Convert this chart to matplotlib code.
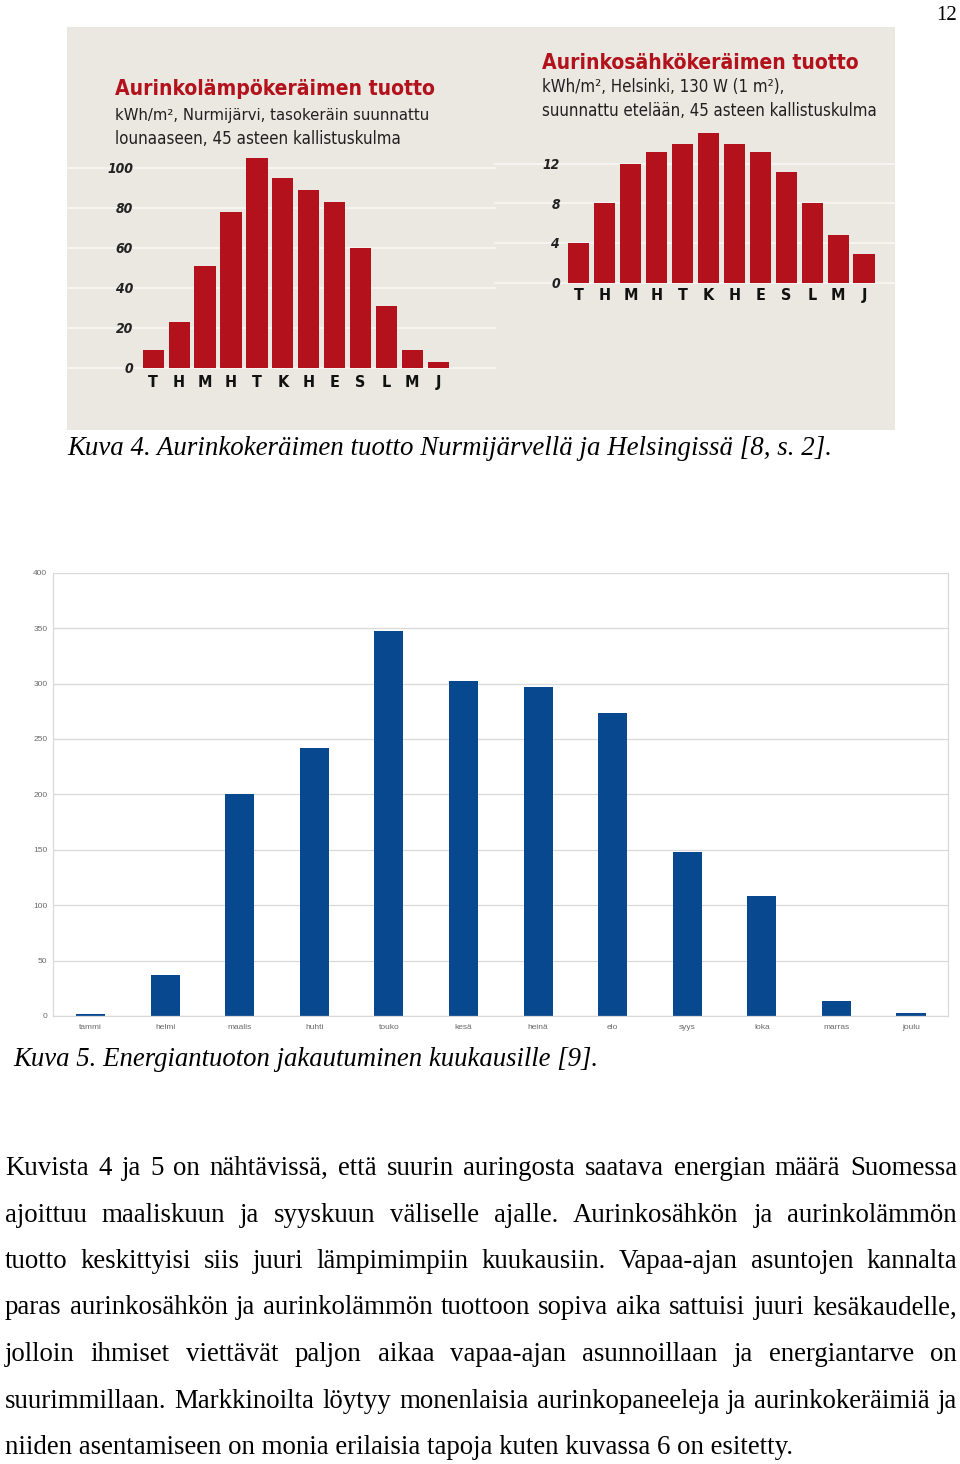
import matplotlib
matplotlib.use('Agg')
import matplotlib.pyplot as plt
from matplotlib.patches import Rectangle

W, H, DPI = 960, 1464, 100

# ---------------- data ----------------
months_short = ['T', 'H', 'M', 'H', 'T', 'K', 'H', 'E', 'S', 'L', 'M', 'J']
heat_kwh = [9, 23, 51, 78, 105, 95, 89, 83, 60, 31, 9, 3]
heat_ticks = [0, 20, 40, 60, 80, 100]
pv_kwh = [4, 8, 12, 13.2, 14, 15.1, 14, 13.2, 11.2, 8, 4.8, 2.9]
pv_ticks = [0, 4, 8, 12]
months_fi = ['tammi', 'helmi', 'maalis', 'huhti', 'touko', 'kesä',
             'heinä', 'elo', 'syys', 'loka', 'marras', 'joulu']
energy = [1.5, 37, 200, 242, 347, 302, 297, 273, 148, 108, 13.5, 2.5]
energy_ticks = [0, 50, 100, 150, 200, 250, 300, 350, 400]

title_heat = 'Aurinkolämpökeräimen tuotto'
sub_heat = ['kWh/m², Nurmijärvi, tasokeräin suunnattu',
            'lounaaseen, 45 asteen kallistuskulma']
title_pv = 'Aurinkosähkökeräimen tuotto'
sub_pv = ['kWh/m², Helsinki, 130 W (1 m²),',
          'suunnattu etelään, 45 asteen kallistuskulma']
caption4 = 'Kuva 4. Aurinkokeräimen tuotto Nurmijärvellä ja Helsingissä [8, s. 2].'
caption5 = 'Kuva 5. Energiantuoton jakautuminen kuukausille [9].'
page_no = '12'
body_lines = [
    'Kuvista 4 ja 5 on nähtävissä, että suurin auringosta saatava energian määrä Suomessa',
    'ajoittuu maaliskuun ja syyskuun väliselle ajalle. Aurinkosähkön ja aurinkolämmön',
    'tuotto keskittyisi siis juuri lämpimimpiin kuukausiin. Vapaa-ajan asuntojen kannalta',
    'paras aurinkosähkön ja aurinkolämmön tuottoon sopiva aika sattuisi juuri kesäkaudelle,',
    'jolloin ihmiset viettävät paljon aikaa vapaa-ajan asunnoillaan ja energiantarve on',
    'suurimmillaan. Markkinoilta löytyy monenlaisia aurinkopaneeleja ja aurinkokeräimiä ja',
    'niiden asentamiseen on monia erilaisia tapoja kuten kuvassa 6 on esitetty.',
]

RED = '#b3121c'
BLUE = '#08488e'
BEIGE = '#ebe7e1'
COND = ['Liberation Sans Narrow', 'DejaVu Sans']
SERIF = ['Liberation Serif', 'DejaVu Serif']

fig = plt.figure(figsize=(W / DPI, H / DPI), dpi=DPI)
fig.patch.set_facecolor('white')
renderer = fig.canvas.get_renderer()

page = fig.add_axes([0, 0, 1, 1])
page.set_xlim(0, W)
page.set_ylim(H, 0)
page.axis('off')


def px_axes(x0, y0, x1, y1):
    a = fig.add_axes([x0 / W, 1 - y1 / H, (x1 - x0) / W, (y1 - y0) / H])
    a.patch.set_alpha(0)
    return a


def fit_text(x, y, s, width, fs=20, **kw):
    t = page.text(x, y, s, fontsize=fs, va='baseline', **kw)
    w = t.get_window_extent(renderer).width
    t.set_fontsize(fs * width / w)
    return t


# ---------------- infographic background ----------------
page.add_patch(Rectangle((67, 27), 828, 403, facecolor=BEIGE, edgecolor='none'))

# ---------------- left: solar heat collector ----------------
axL = px_axes(67, 147.7, 495, 367.7)
axL.bar(range(12), heat_kwh, width=0.82, color=RED, zorder=2)
axL.set_xlim(-3.33, 13.19)
axL.set_ylim(0, 110)
axL.set_yticks(heat_ticks)
axL.set_yticklabels([str(v) for v in heat_ticks], family=COND, fontstretch='condensed',
                    fontsize=10, fontweight='bold', fontstyle='italic', color='#222222')
axL.set_xticks(range(12))
axL.set_xticklabels(months_short, family=COND, fontstretch='condensed', fontsize=11.5,
                    fontweight='bold', color='#111111')
axL.tick_params(axis='y', length=0, pad=-47.5)
axL.tick_params(axis='x', length=0, pad=5)
axL.grid(axis='y', color='#f8f6f3', lw=1.3, clip_on=False)
axL.set_axisbelow(True)
for s in axL.spines.values():
    s.set_visible(False)

fit_text(115, 95, title_heat, 322, family=COND, fontstretch='condensed',
         fontweight='bold', color=RED)
fit_text(115, 120, sub_heat[0], 311, family=COND, fontstretch='condensed', color='#231f20')
fit_text(115, 144, sub_heat[1], 285, family=COND, fontstretch='condensed', color='#231f20')

# ---------------- right: PV collector ----------------
axR = px_axes(495, 119.15, 895, 282.5)
axR.bar(range(12), pv_kwh, width=0.82, color=RED, zorder=2)
axR.set_xlim(-3.225, 12.19)
axR.set_ylim(0, 16.5)
axR.set_yticks(pv_ticks)
axR.set_yticklabels([str(v) for v in pv_ticks], family=COND, fontstretch='condensed',
                    fontsize=10, fontweight='bold', fontstyle='italic', color='#222222')
axR.set_xticks(range(12))
axR.set_xticklabels(months_short, family=COND, fontstretch='condensed', fontsize=11.5,
                    fontweight='bold', color='#111111')
axR.tick_params(axis='y', length=0, pad=-46.8)
axR.tick_params(axis='x', length=0, pad=4.3)
axR.grid(axis='y', color='#f8f6f3', lw=1.3, clip_on=False)
axR.set_axisbelow(True)
for s in axR.spines.values():
    s.set_visible(False)

fit_text(542, 69, title_pv, 318, family=COND, fontstretch='condensed',
         fontweight='bold', color=RED)
fit_text(542, 92, sub_pv[0], 241, family=COND, fontstretch='condensed', color='#231f20')
fit_text(542, 116.5, sub_pv[1], 333, family=COND, fontstretch='condensed', color='#231f20')

# ---------------- captions / page number ----------------
fit_text(67, 455, caption4, 763, family=SERIF, fontstyle='italic', color='black')
fit_text(13, 1066, caption5, 587, family=SERIF, fontstyle='italic', color='black')
page.text(957, 20, page_no, fontsize=15, family=SERIF, ha='right', va='baseline', color='black')

# ---------------- bottom chart ----------------
axB = px_axes(53.3, 572.7, 948.3, 1016)
axB.bar(range(12), energy, width=0.39, color=BLUE, zorder=2)
axB.set_xlim(-0.5, 11.5)
axB.set_ylim(0, 400)
axB.set_yticks(energy_ticks)
axB.set_yticklabels([str(v) for v in energy_ticks], family=['Liberation Sans', 'DejaVu Sans'],
                    fontsize=6.0, color='#6a6a6a')
axB.set_xticks(range(12))
axB.set_xticklabels(months_fi, family=['Liberation Sans', 'DejaVu Sans'],
                    fontsize=6.0, color='#6a6a6a')
axB.tick_params(axis='y', length=0, pad=4.3)
axB.tick_params(axis='x', length=0, pad=6)
axB.grid(axis='y', color='#d9d9d9', lw=0.9)
axB.set_axisbelow(True)
axB.spines['top'].set_visible(False)
for k in ['left', 'right', 'bottom']:
    axB.spines[k].set_color('#d9d9d9')
    axB.spines[k].set_linewidth(0.9)

# ---------------- body text ----------------
BODY_FS = 19.4
X0, X1 = 5, 957
baseline0, step = 1175, 46.5


def justify(y, line, x0, x1, fs):
    words = line.split()
    texts = [page.text(0, y, w_, fontsize=fs, family=SERIF, va='baseline', color='black')
             for w_ in words]
    widths = [t.get_window_extent(renderer).width for t in texts]
    total = sum(widths)
    avail = x1 - x0
    min_gap = 0.2 * fs / 72 * DPI
    need = total + min_gap * (len(words) - 1)
    if need > avail:
        scale = avail / need
        for t in texts:
            t.set_fontsize(fs * scale)
        widths = [w_ * scale for w_ in widths]
        total = sum(widths)
    gap = (avail - total) / (len(words) - 1)
    x = x0
    for t, w_ in zip(texts, widths):
        t.set_x(x)
        x += w_ + gap


for i, line in enumerate(body_lines[:-1]):
    justify(baseline0 + i * step, line, X0, X1, BODY_FS)

last = page.text(X0, baseline0 + 6 * step, body_lines[-1], fontsize=BODY_FS,
                 family=SERIF, va='baseline', color='black')
lw_ = last.get_window_extent(renderer).width
if lw_ > 790:
    last.set_fontsize(BODY_FS * 790 / lw_)

fig.savefig('out.png', dpi=DPI)
